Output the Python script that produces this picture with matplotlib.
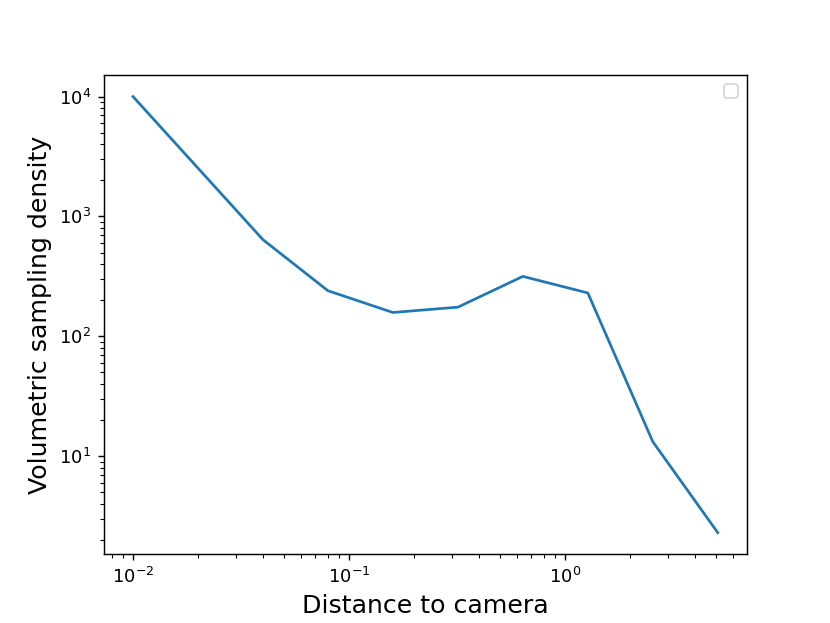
import matplotlib
matplotlib.use('Agg')
import matplotlib.pyplot as plt

# distances (doubling steps) and measured densities
distance = [0.01, 0.04, 0.08, 0.16, 0.32, 0.64, 1.28, 2.56, 5.12]
density = [10000, 640, 240, 158, 175, 316, 230, 13.2, 2.30]


def main():
    dpi = 130
    figure, axis = plt.subplots(figsize=(830 / dpi, 623 / dpi), dpi=dpi)

    axis.plot(distance, density)
    axis.set_xscale('log')
    axis.set_yscale('log')

    axis.set_xlabel('Distance to camera', fontsize=14)
    axis.set_ylabel('Volumetric sampling density', fontsize=14)

    # no labelled artists -> empty legend box, as in the original
    axis.legend()

    figure.savefig('out.png', dpi=dpi)


if __name__ == '__main__':
    main()
